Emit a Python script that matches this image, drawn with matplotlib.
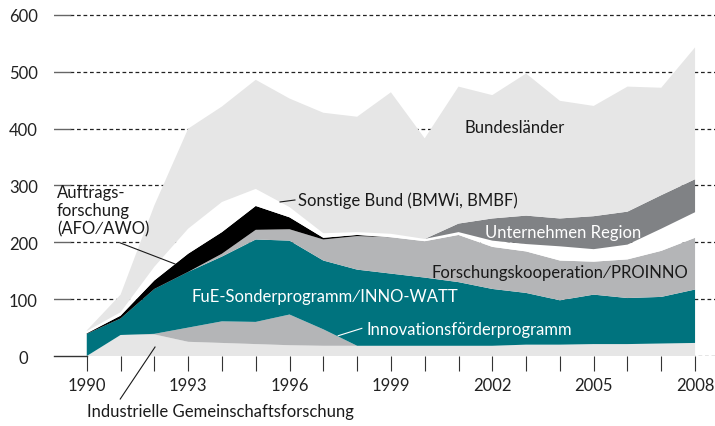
import numpy as np
import matplotlib.pyplot as plt

# =========================
# Data (Mio. Euro)
# =========================

years = list(range(1990, 2009))
tick_years = [1990, 1993, 1996, 1999, 2002, 2005, 2008]
y_ticks = [0, 100, 200, 300, 400, 500, 600]

igf = [0, 37, 38, 25, 23, 21, 19, 18, 18, 18, 18, 18, 18, 20, 20, 21, 21, 22, 23]
innov = [0, 0, 1, 25, 38, 39, 54, 29, 0, 0, 0, 0, 0, 0, 0, 0, 0, 0, 0]
fue = [39, 29, 79, 98, 114, 145, 130, 121, 134, 127, 120, 112, 100, 91, 78, 87, 81, 82, 94]
forsch = [0, 0, 0, 0, 5, 17, 20, 37, 59, 64, 64, 83, 74, 73, 70, 58, 68, 81, 91]
afo = [1, 5, 15, 32, 38, 42, 21, 3, 2, 0, 0, 0, 0, 0, 0, 0, 0, 0, 0]
sonstige = [4, 6, 24, 44, 53, 30, 18, 8, 5, 6, 4, 5, 11, 13, 25, 22, 26, 39, 45]
region = [0, 0, 0, 0, 0, 0, 0, 0, 0, 0, 0, 15, 39, 50, 49, 58, 58, 59, 58]
laender = [1, 31, 108, 176, 168, 192, 191, 212, 203, 249, 177, 241, 217, 250, 207, 194, 220, 189, 232]

series = [igf, innov, fue, forsch, afo, sonstige, region, laender]
colors = ["#e6e6e6", "#b4b5b7", "#00737e", "#b4b5b7", "#000000", "#ffffff", "#808285", "#e6e6e6"]

plt.rcParams["font.family"] = ["Lato", "DejaVu Sans"]
fs = 12.0

# =========================
# Plot
# =========================

fig = plt.figure(figsize=(7.15, 4.27), dpi=100)
ax = fig.add_axes([0.0755, 0.1639, 0.9245, 0.8253])

ax.set_xlim(1989.03, 2008.59)
ax.set_ylim(0, 620)

# grid lines behind the areas
for v in y_ticks[1:]:
    ax.plot([1989.5, 2008.59], [v, v], color="#222222", lw=0.9,
            linestyle=(0, (3.0, 2.2)), zorder=0)
    ax.plot([1989.03, 1989.5], [v, v], color="#666666", lw=1.0, zorder=0)
ax.plot([1989.03, 1990], [0, 0], color="#333333", lw=1.0, zorder=3, clip_on=False)
ax.plot([1990, 2008.59], [0, 0], color="#333333", lw=0.9,
        linestyle=(0, (3.0, 2.2)), zorder=0)

ax.stackplot(years, *series, colors=colors, linewidth=0, zorder=1)

# axes styling
for s in ax.spines.values():
    s.set_visible(False)
ax.set_xticks(years, minor=True)
ax.set_xticks(tick_years)
ax.set_xticklabels([str(y) for y in tick_years])
ax.tick_params(axis="x", which="both", length=11, width=0.8, color="#333333",
               direction="out", pad=4, labelsize=fs, labelcolor="#222222")
ax.set_yticks(y_ticks)
ax.set_yticklabels([str(v) for v in y_ticks])
ax.tick_params(axis="y", length=0, pad=22, labelsize=fs, labelcolor="#222222")
for lbl in ax.get_yticklabels():
    lbl.set_horizontalalignment("center")

# =========================
# Labels
# =========================

txt = dict(fontsize=fs, color="#1a1a1a")
ax.text(2002.66, 403, "Bundesländer", ha="center", va="center", **txt)
ax.text(1996.25, 274.5, "Sonstige Bund (BMWi, BMBF)", ha="left", va="center", **txt)
ax.plot([1995.72, 1996.16], [271, 274.5], color="#1a1a1a", lw=0.8)
ax.text(1989.12, 256, "Auftrags-\nforschung\n(AFO\u2215AWO)", ha="left", va="center",
        linespacing=1.17, **txt)
ax.plot([1990.99, 1992.61], [199, 162], color="#1a1a1a", lw=0.8)
ax.text(2004.09, 218, "Unternehmen Region", ha="center", va="center",
        fontsize=fs, color="white")
ax.text(2004.0, 148, "Forschungskooperation\u2215PROINNO", ha="center", va="center", **txt)
ax.text(1997.05, 106, "FuE-Sonderprogramm\u2215INNO-WATT", ha="center", va="center",
        fontsize=fs, color="white")
ax.text(1998.29, 47.5, "Innovationsförderprogramm", ha="left", va="center",
        fontsize=fs, color="white")
ax.plot([1997.44, 1998.14], [35.7, 48.7], color="white", lw=0.8)
ax.text(1990.0, -96, "Industrielle Gemeinschaftsforschung", ha="left", va="center",
        clip_on=False, **txt)
ax.plot([1990.99, 1992.02], [-75.7, 15.8], color="#1a1a1a", lw=0.8, clip_on=False)

fig.savefig("out.png", dpi=100)
